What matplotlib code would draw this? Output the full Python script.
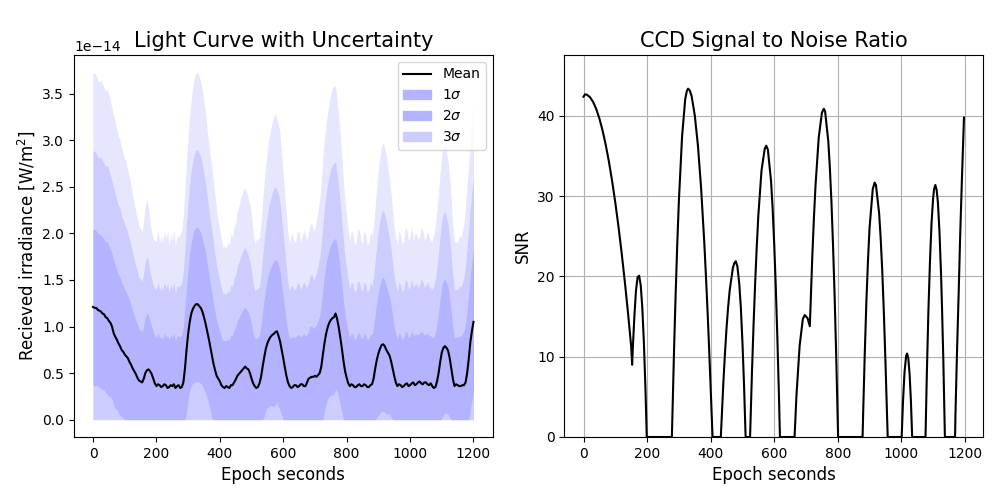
import matplotlib
matplotlib.use("Agg")
import matplotlib.pyplot as plt
import matplotlib.patches as mpatches
from matplotlib.lines import Line2D
import numpy as np

SCALE = 1e-14

# light curve, sampled every 5 s (values in units of 1e-14 W/m^2)
epoch = np.arange(0, 1201, 5)
mean_flux = [
    1.21, 1.20, 1.20, 1.18, 1.17, 1.16, 1.14, 1.13, 1.10, 1.09, 1.06, 1.04, 1.00, 0.93, 0.89, 0.86, 0.82, 0.79, 0.75, 0.73,
    0.70, 0.68, 0.66, 0.62, 0.59, 0.55, 0.52, 0.49, 0.45, 0.42, 0.41, 0.40, 0.44, 0.50, 0.53, 0.54, 0.52, 0.49, 0.44, 0.39,
    0.36, 0.38, 0.37, 0.35, 0.36, 0.38, 0.37, 0.34, 0.35, 0.37, 0.36, 0.38, 0.34, 0.36, 0.37, 0.34, 0.35, 0.40, 0.55, 0.75,
    0.92, 1.05, 1.14, 1.19, 1.22, 1.24, 1.24, 1.22, 1.20, 1.16, 1.10, 1.03, 0.95, 0.87, 0.78, 0.69, 0.60, 0.53, 0.47, 0.44,
    0.41, 0.37, 0.35, 0.34, 0.36, 0.35, 0.34, 0.37, 0.37, 0.40, 0.43, 0.47, 0.49, 0.51, 0.53, 0.55, 0.57, 0.55, 0.54, 0.50,
    0.44, 0.39, 0.36, 0.34, 0.35, 0.39, 0.46, 0.57, 0.67, 0.76, 0.82, 0.86, 0.89, 0.91, 0.92, 0.94, 0.95, 0.90, 0.84, 0.75,
    0.66, 0.56, 0.47, 0.40, 0.36, 0.34, 0.35, 0.37, 0.37, 0.35, 0.36, 0.38, 0.38, 0.36, 0.36, 0.40, 0.44, 0.45, 0.46, 0.46,
    0.47, 0.46, 0.48, 0.50, 0.57, 0.70, 0.82, 0.92, 0.99, 1.04, 1.07, 1.09, 1.10, 1.14, 1.08, 0.99, 0.88, 0.76, 0.63, 0.52,
    0.45, 0.39, 0.36, 0.38, 0.37, 0.35, 0.35, 0.37, 0.38, 0.36, 0.36, 0.38, 0.37, 0.35, 0.35, 0.37, 0.38, 0.44, 0.55, 0.64,
    0.71, 0.76, 0.80, 0.81, 0.79, 0.75, 0.72, 0.69, 0.63, 0.55, 0.47, 0.40, 0.36, 0.38, 0.37, 0.35, 0.36, 0.38, 0.39, 0.36,
    0.37, 0.39, 0.40, 0.37, 0.38, 0.40, 0.41, 0.39, 0.38, 0.40, 0.40, 0.38, 0.37, 0.39, 0.36, 0.34, 0.35, 0.41, 0.50, 0.62,
    0.72, 0.77, 0.79, 0.77, 0.74, 0.66, 0.55, 0.44, 0.36, 0.38, 0.37, 0.36, 0.36, 0.37, 0.37, 0.40, 0.50, 0.65, 0.83, 0.95,
    1.05,
]
sigma_flux = [
    0.84, 0.84, 0.83, 0.82, 0.82, 0.83, 0.82, 0.81, 0.81, 0.82, 0.81, 0.79, 0.78, 0.78, 0.77, 0.75, 0.74, 0.74, 0.72, 0.71,
    0.70, 0.69, 0.67, 0.66, 0.64, 0.62, 0.60, 0.58, 0.57, 0.55, 0.55, 0.54, 0.57, 0.60, 0.61, 0.58, 0.53, 0.51, 0.50, 0.51,
    0.52, 0.55, 0.51, 0.54, 0.51, 0.55, 0.52, 0.56, 0.51, 0.54, 0.52, 0.55, 0.51, 0.54, 0.53, 0.55, 0.56, 0.60, 0.65, 0.68,
    0.71, 0.74, 0.77, 0.80, 0.82, 0.83, 0.83, 0.82, 0.81, 0.79, 0.77, 0.75, 0.72, 0.70, 0.68, 0.67, 0.65, 0.62, 0.59, 0.56,
    0.54, 0.52, 0.50, 0.51, 0.49, 0.52, 0.51, 0.54, 0.53, 0.56, 0.56, 0.59, 0.60, 0.62, 0.63, 0.64, 0.64, 0.63, 0.61, 0.60,
    0.58, 0.54, 0.51, 0.53, 0.53, 0.52, 0.55, 0.59, 0.63, 0.66, 0.69, 0.72, 0.74, 0.76, 0.78, 0.78, 0.76, 0.76, 0.74, 0.70,
    0.66, 0.62, 0.58, 0.53, 0.51, 0.55, 0.54, 0.51, 0.52, 0.56, 0.55, 0.51, 0.53, 0.56, 0.54, 0.51, 0.52, 0.55, 0.55, 0.52,
    0.53, 0.56, 0.59, 0.62, 0.66, 0.70, 0.73, 0.75, 0.77, 0.79, 0.81, 0.82, 0.83, 0.81, 0.78, 0.75, 0.72, 0.68, 0.64, 0.61,
    0.58, 0.55, 0.52, 0.55, 0.54, 0.51, 0.52, 0.56, 0.55, 0.52, 0.51, 0.55, 0.54, 0.51, 0.52, 0.55, 0.53, 0.55, 0.58, 0.62,
    0.66, 0.69, 0.71, 0.72, 0.71, 0.69, 0.66, 0.63, 0.60, 0.56, 0.53, 0.52, 0.51, 0.55, 0.54, 0.51, 0.52, 0.56, 0.55, 0.52,
    0.53, 0.56, 0.51, 0.54, 0.54, 0.51, 0.52, 0.56, 0.55, 0.51, 0.52, 0.55, 0.53, 0.51, 0.52, 0.55, 0.58, 0.62, 0.65, 0.68,
    0.71, 0.72, 0.72, 0.70, 0.68, 0.64, 0.60, 0.55, 0.52, 0.51, 0.51, 0.54, 0.53, 0.55, 0.58, 0.63, 0.68, 0.70, 0.72, 0.75,
    0.78,
]

# signal to noise ratio
snr_epoch = [
    0, 5, 10, 20, 30, 40, 50, 60, 70, 80, 90, 100, 110, 120, 130, 140, 150,
    153, 155, 160, 165, 170, 175, 180, 185, 190, 195, 199,
    278, 280, 285, 290, 295, 300, 310, 320, 325, 329, 334, 340, 350, 360, 370, 380, 385, 390, 395, 400, 406,
    432, 440, 445, 450, 455, 460, 470, 475, 479, 484, 490, 495, 500, 505, 510,
    524, 530, 535, 540, 545, 550, 560, 570, 575, 580, 590, 595, 600, 605, 610, 615, 618,
    664, 670, 680, 690, 696, 705, 712, 720, 725, 730, 740, 750, 756, 760, 770, 775, 780, 785, 790, 795, 801,
    878, 880, 885, 890, 895, 900, 910, 916, 920, 930, 935, 940, 945, 950, 957,
    1001, 1005, 1010, 1015, 1018, 1022, 1026, 1030, 1034,
    1076, 1080, 1085, 1090, 1095, 1100, 1103, 1107, 1111, 1115, 1120, 1125, 1128, 1132, 1137,
    1169, 1170, 1175, 1180, 1185, 1190, 1197,
]
snr = [
    42.4, 42.7, 42.66, 42.36, 41.77, 40.87, 39.68, 38.18, 36.38, 34.29, 31.9, 29.21, 26.22, 22.93, 19.34, 15.46, 11.27,
    9.0, 11.0, 15.0, 18.2, 19.9, 20.1, 18.9, 16.1, 11.7, 5.8, 0,
    0, 3.3, 11.1, 18.0, 24.1, 29.4, 37.4, 42.1, 43.1, 43.4, 43.2, 42.5, 40.1, 36.3, 31.0, 24.2, 20.2, 15.9, 11.2, 6.1, 0,
    0, 6.8, 10.4, 13.6, 16.2, 18.3, 21.1, 21.7, 21.9, 21.3, 19.1, 16.1, 11.8, 6.5, 0,
    0, 8.1, 14.0, 19.2, 23.7, 27.6, 33.2, 35.9, 36.3, 35.8, 31.9, 28.5, 24.0, 18.6, 12.2, 4.9, 0,
    0, 5.2, 11.4, 14.7, 15.2, 14.8, 13.8, 22.7, 27.4, 31.4, 37.3, 40.4, 40.9, 40.6, 36.9, 33.6, 29.3, 23.9, 17.6, 10.2, 0,
    0, 3.3, 10.6, 16.9, 22.0, 26.1, 30.9, 31.7, 31.4, 27.9, 24.7, 20.6, 15.4, 9.3, 0,
    0, 4.3, 8.1, 10.1, 10.4, 9.75, 7.8, 4.55, 0,
    0, 7.6, 15.6, 21.9, 26.7, 29.8, 30.9, 31.4, 30.8, 29.2, 25.5, 20.1, 16.0, 9.6, 0,
    0, 2.5, 10.5, 17.5, 25.0, 31.5, 39.8,
]

band_colors = {3: "#e6e6ff", 2: "#ccccff", 1: "#b3b3ff"}
legend_colors = {1: "#b3b3ff", 2: "#b3b3ff", 3: "#ccccff"}


def main() -> None:
    mean = np.array(mean_flux) * SCALE
    sig = np.array(sigma_flux) * SCALE

    fig, (ax1, ax2) = plt.subplots(1, 2, figsize=(10, 5), dpi=100)
    fig.subplots_adjust(left=0.074, right=0.983, bottom=0.126, top=0.89, wspace=0.172)

    for k in (3, 2, 1):
        lower = np.clip(mean - k * sig, 0, None)
        upper = mean + k * sig
        ax1.fill_between(epoch, lower, upper, color=band_colors[k], lw=0)
    ax1.plot(epoch, mean, color="black", lw=1.5)

    handles = [Line2D([], [], color="black", lw=1.5)]
    handles += [mpatches.Patch(color=legend_colors[k]) for k in (1, 2, 3)]
    ax1.legend(handles, ["Mean", r"1$\sigma$", r"2$\sigma$", r"3$\sigma$"], loc="upper right")
    ax1.set_title("Light Curve with Uncertainty", fontsize=15)
    ax1.set_xlabel("Epoch seconds", fontsize=12)
    ax1.set_ylabel(r"Recieved irradiance [W/m$^2$]", fontsize=12)

    ax2.plot(snr_epoch, snr, color="black", lw=1.5)
    ax2.set_ylim(0, 47.6)
    ax2.grid(True)
    ax2.set_title("CCD Signal to Noise Ratio", fontsize=15)
    ax2.set_xlabel("Epoch seconds", fontsize=12)
    ax2.set_ylabel("SNR", fontsize=12)

    fig.savefig("out.png", facecolor="white")
    plt.close(fig)


if __name__ == "__main__":
    main()
